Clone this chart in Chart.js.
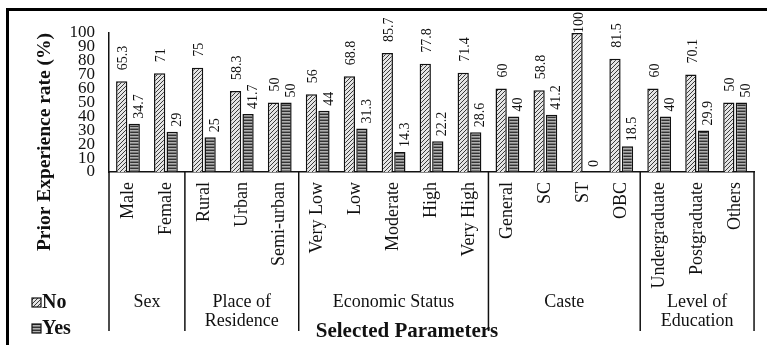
<!DOCTYPE html>
<html lang="en">
<head>
    <meta charset="UTF-8">
    <title>Prior Experience rate</title>
    <style>
        body { margin: 0; background: #fff; }
        #wrap { width: 767px; height: 345px; }
    </style>
</head>
<body>
    <div id="wrap">
        <canvas id="bar-chart" width="767" height="345"></canvas>
    </div>

    <script src="https://cdn.jsdelivr.net/npm/chart.js"></script>
    <script>
        const categories = ['Male', 'Female', 'Rural', 'Urban', 'Semi-urban', 'Very Low', 'Low', 'Moderate', 'High', 'Very High',
            'General', 'SC', 'ST', 'OBC', 'Undergraduate', 'Postgraduate', 'Others'];
        const noValues = [65.3, 71, 75, 58.3, 50, 56, 68.8, 85.7, 77.8, 71.4, 60, 58.8, 100, 81.5, 60, 70.1, 50];
        const yesValues = [34.7, 29, 25, 41.7, 50, 44, 31.3, 14.3, 22.2, 28.6, 40, 41.2, 0, 18.5, 40, 29.9, 50];
        const groupNames = [['Sex'], ['Place of', 'Residence'], ['Economic Status'], ['Caste'], ['Level of', 'Education']];
        const groupSizes = [2, 3, 5, 4, 3];
        const yTicks = [0, 10, 20, 30, 40, 50, 60, 70, 80, 90, 100];

        const serif = '"Liberation Serif", "Times New Roman", serif';

        function makePattern(kind) {
            const c = document.createElement('canvas');
            const p = c.getContext('2d');
            if (kind === 'diag') {
                c.width = 4; c.height = 4;
                p.fillStyle = '#e4e4e4';
                p.fillRect(0, 0, 4, 4);
                p.strokeStyle = '#3a3a3a';
                p.lineWidth = 1;
                p.beginPath();
                p.moveTo(0, 4); p.lineTo(4, 0);
                p.moveTo(-1, 1); p.lineTo(1, -1);
                p.moveTo(3, 5); p.lineTo(5, 3);
                p.stroke();
            } else {
                c.width = 2; c.height = 3;
                p.fillStyle = '#b0b0b0';
                p.fillRect(0, 0, 2, 3);
                p.fillStyle = '#333';
                p.fillRect(0, 0, 2, 1);
                p.fillStyle = '#7a7a7a';
                p.fillRect(0, 2, 2, 1);
            }
            return p.createPattern(c, 'repeat');
        }

        const diagFill = makePattern('diag');
        const stripeFill = makePattern('stripe');

        // labels over bars, group separators, legend and titles
        const decorations = {
            id: 'decorations',
            afterDatasetsDraw(chart) {
                const ctx = chart.ctx;
                const area = chart.chartArea;
                const x = chart.scales.x;

                ctx.save();
                ctx.fillStyle = '#111';
                ctx.font = '14px ' + serif;
                ctx.textBaseline = 'middle';
                ctx.textAlign = 'left';
                chart.data.datasets.forEach((ds, di) => {
                    const meta = chart.getDatasetMeta(di);
                    const gap = di === 0 ? 11 : 5;
                    const dx = di === 0 ? 2 : 5;
                    meta.data.forEach((bar, i) => {
                        const y0 = Math.max(bar.y - gap, area.top);
                        ctx.save();
                        ctx.translate(bar.x + dx, y0);
                        ctx.rotate(-Math.PI / 2);
                        ctx.fillText(String(ds.data[i]), 0, 0);
                        ctx.restore();
                    });
                });

                // group boundaries
                const bounds = [area.left];
                let idx = 0;
                groupSizes.forEach((n, g) => {
                    idx += n;
                    if (g === groupSizes.length - 1) bounds.push(area.right);
                    else bounds.push((x.getPixelForTick(idx - 1) + x.getPixelForTick(idx)) / 2);
                });
                ctx.strokeStyle = '#111';
                ctx.lineWidth = 1.5;
                bounds.forEach(b => {
                    ctx.beginPath();
                    ctx.moveTo(b, area.bottom);
                    ctx.lineTo(b, 331);
                    ctx.stroke();
                });

                ctx.font = '18px ' + serif;
                ctx.textAlign = 'center';
                groupNames.forEach((lines, g) => {
                    const cx = (bounds[g] + bounds[g + 1]) / 2;
                    lines.forEach((t, k) => ctx.fillText(t, cx, 302 + k * 19));
                });

                ctx.font = 'bold 21px ' + serif;
                ctx.fillText('Selected Parameters', 407, 332);

                ctx.save();
                ctx.translate(45, 142);
                ctx.rotate(-Math.PI / 2);
                ctx.font = 'bold 19.5px ' + serif;
                ctx.fillText('Prior Experience rate (%)', 0, 0);
                ctx.restore();

                // legend
                ctx.textAlign = 'left';
                ctx.font = 'bold 20px ' + serif;
                chart.data.datasets.forEach((ds, di) => {
                    const ly = di === 0 ? 302 : 328;
                    ctx.fillStyle = ds.backgroundColor;
                    ctx.fillRect(32, ly - 4, 9, 9);
                    ctx.lineWidth = 1.2;
                    ctx.strokeRect(32, ly - 4, 9, 9);
                    ctx.fillStyle = '#111';
                    ctx.fillText(ds.label, 42, ly + 1);
                });

                // outer frame (top and left edges only are visible)
                ctx.fillStyle = '#000';
                ctx.fillRect(6, 8, 761, 3);
                ctx.fillRect(6, 8, 3, 337);
                ctx.restore();
            }
        };

        const ctx = document.getElementById('bar-chart').getContext('2d');
        window.barChart = new Chart(ctx, {
            type: 'bar',
            data: {
                labels: categories,
                datasets: [{
                    label: 'No',
                    data: noValues,
                    backgroundColor: diagFill,
                    borderColor: '#111',
                    borderWidth: 1.5
                }, {
                    label: 'Yes',
                    data: yesValues,
                    backgroundColor: stripeFill,
                    borderColor: '#111',
                    borderWidth: 1.5
                }]
            },
            options: {
                responsive: false,
                animation: false,
                layout: { padding: { left: 0, top: 33, right: 11, bottom: 0 } },
                datasets: {
                    bar: { categoryPercentage: 0.66, barPercentage: 0.9 }
                },
                scales: {
                    x: {
                        afterFit: scale => { scale.height = 173; },
                        grid: { display: false, drawTicks: false },
                        border: { display: true, color: '#111', width: 1.5 },
                        ticks: {
                            autoSkip: false,
                            minRotation: 90,
                            maxRotation: 90,
                            padding: 10,
                            color: '#111',
                            font: { family: serif, size: 18 }
                        }
                    },
                    y: {
                        min: 0,
                        max: 100,
                        afterFit: scale => { scale.width = 109; },
                        afterBuildTicks: scale => { scale.ticks = yTicks.map(v => ({ value: v })); },
                        grid: { display: false, drawTicks: false },
                        border: { display: true, color: '#111', width: 1.5 },
                        ticks: {
                            autoSkip: false,
                            padding: 14,
                            color: '#111',
                            font: { family: serif, size: 17, lineHeight: 1 }
                        }
                    }
                },
                plugins: {
                    legend: { display: false },
                    tooltip: { enabled: false }
                }
            },
            plugins: [decorations]
        });
    </script>
</body>
</html>
